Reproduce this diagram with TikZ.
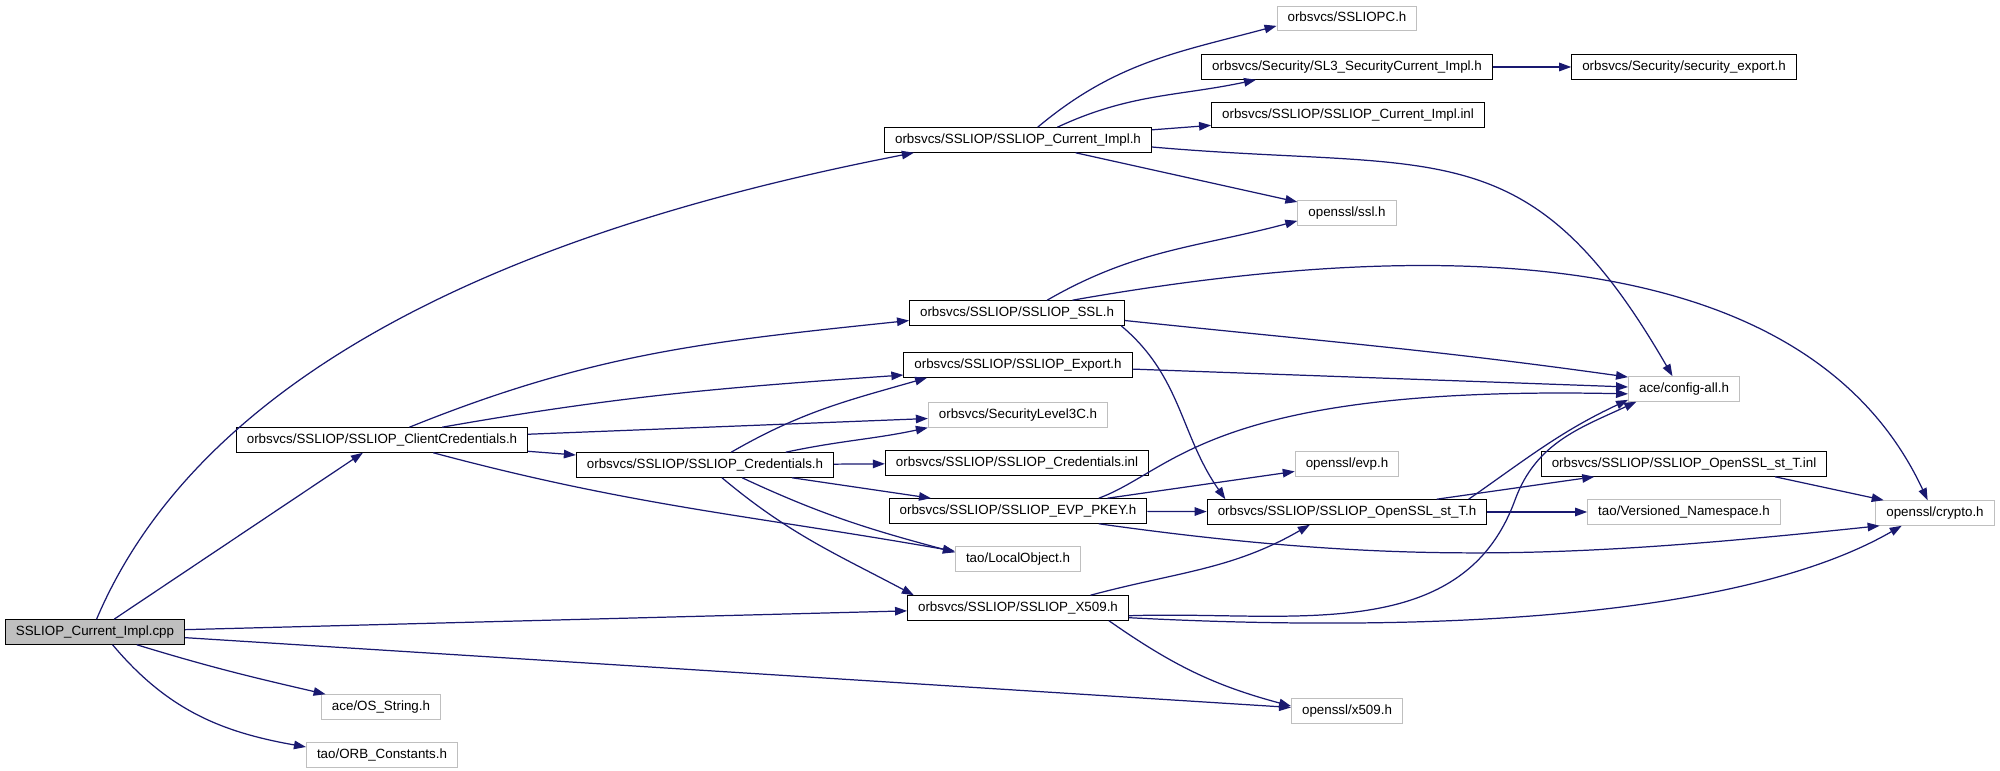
\documentclass[tikz,border=0pt]{standalone}
\usepackage{fontspec}
\setmainfont{Liberation Sans}
\usetikzlibrary{
    arrows.meta            % Modern arrow tips
}
\definecolor{edgeblue}{HTML}{191970}
\definecolor{extgray}{HTML}{BFBFBF}

\begin{document}
\begin{tikzpicture}[x=0.01cm,y=-0.01cm,
    box/.style={rectangle,inner xsep=0.105cm,inner ysep=0pt,minimum height=0.245cm,
        text height=2.75pt,text depth=0.8pt,
        font=\fontsize{3.8pt}{4.5pt}\selectfont,line width=0.3pt},
    docnode/.style={box,draw=black},
    extnode/.style={box,draw=extgray},
    rootnode/.style={box,draw=black,fill=extgray},
    incl/.style={draw=edgeblue,line width=0.35pt,-{Triangle[length=0.12cm,width=0.085cm]}}]
    \useasboundingbox (0,0) rectangle (2000,771);

    \node[rootnode] (main) at (95,632) {SSLIOP\_Current\_Impl.cpp};
    \node[docnode] (ccred) at (382,440) {orbsvcs/SSLIOP/SSLIOP\_ClientCredentials.h};
    \node[docnode] (cimplh) at (1018,140) {orbsvcs/SSLIOP/SSLIOP\_Current\_Impl.h};
    \node[extnode] (siopc) at (1347,18.5) {orbsvcs/SSLIOPC.h};
    \node[docnode] (sl3cur) at (1347,67) {orbsvcs/Security/SL3\_SecurityCurrent\_Impl.h};
    \node[docnode] (secexp) at (1684,67) {orbsvcs/Security/security\_export.h};
    \node[docnode] (cimplinl) at (1348,115) {orbsvcs/SSLIOP/SSLIOP\_Current\_Impl.inl};
    \node[extnode] (ssl) at (1347,213) {openssl/ssl.h};
    \node[docnode] (sslh) at (1017,313) {orbsvcs/SSLIOP/SSLIOP\_SSL.h};
    \node[docnode] (exph) at (1018,365) {orbsvcs/SSLIOP/SSLIOP\_Export.h};
    \node[extnode] (cfg) at (1684,389) {ace/config-all.h};
    \node[extnode] (sl3c) at (1018,415) {orbsvcs/SecurityLevel3C.h};
    \node[docnode] (credh) at (705,465) {orbsvcs/SSLIOP/SSLIOP\_Credentials.h};
    \node[docnode] (credinl) at (1017,463) {orbsvcs/SSLIOP/SSLIOP\_Credentials.inl};
    \node[extnode] (evp) at (1347,464) {openssl/evp.h};
    \node[docnode] (stinl) at (1684,464) {orbsvcs/SSLIOP/SSLIOP\_OpenSSL\_st\_T.inl};
    \node[docnode] (pkey) at (1018,511) {orbsvcs/SSLIOP/SSLIOP\_EVP\_PKEY.h};
    \node[docnode] (sth) at (1347,512) {orbsvcs/SSLIOP/SSLIOP\_OpenSSL\_st\_T.h};
    \node[extnode] (vns) at (1684,512) {tao/Versioned\_Namespace.h};
    \node[extnode] (crypto) at (1935,513) {openssl/crypto.h};
    \node[extnode] (lobj) at (1018,559) {tao/LocalObject.h};
    \node[docnode] (x509h) at (1018,608) {orbsvcs/SSLIOP/SSLIOP\_X509.h};
    \node[extnode] (osstr) at (381,707) {ace/OS\_String.h};
    \node[extnode] (x509) at (1347,711) {openssl/x509.h};
    \node[extnode] (orbc) at (382,755) {tao/ORB\_Constants.h};

    \draw[incl] (main.83) to[out=67,in=191,looseness=0.85] (cimplh.187);
    \draw[incl] (main) -- (ccred);
    \draw[incl] (main) -- (x509h);
    \draw[incl] (main) -- (x509);
    \draw[incl] (main.-17) to[out=-17,in=167] (osstr.167);
    \draw[incl] (main.-36) to[out=-50,in=170] (orbc.174);

    \draw[incl] (cimplh.33) to[out=40,in=195] (siopc.186);
    \draw[incl] (cimplh.18) to[out=25,in=192] (sl3cur.188);
    \draw[incl] (cimplh) -- (cimplinl);
    \draw[incl] (cimplh) -- (ssl);
    \draw[incl] (cimplh.-3) to[out=-5,in=120,looseness=1.3] (cfg.132);
    \draw[incl] (sl3cur) -- (secexp);

    \draw[incl] (ccred.25) to[out=22,in=186] (sslh.184);
    \draw[incl] (ccred.12) to[out=10,in=184] (exph.185);
    \draw[incl] (ccred) -- (sl3c);
    \draw[incl] (ccred) -- (credh);
    \draw[incl] (ccred.-14) to[out=-15,in=170] (lobj.173);

    \draw[incl] (credh.26) to[out=30,in=196] (exph.188);
    \draw[incl] (credh.9) to[out=12,in=192] (sl3c.188);
    \draw[incl] (credh) -- (credinl);
    \draw[incl] (credh) -- (pkey);
    \draw[incl] (credh.-19) to[out=-25,in=165] (lobj.174);
    \draw[incl] (credh.-37) to[out=-40,in=152] (x509h.173);

    \draw[incl] (sslh.23) to[out=30,in=195] (ssl.189);
    \draw[incl] (sslh.13) to[out=10,in=115,looseness=0.9] (crypto.120);
    \draw[incl] (sslh.-4) to[out=-6,in=172] (cfg.168);
    \draw[incl] (sslh.-7) to[out=-40,in=125] (sth.174);
    \draw[incl] (exph) -- (cfg);

    \draw[incl] (pkey.9) .. controls (1175,470) and (1210,385) .. (cfg.185);
    \draw[incl] (pkey) -- (evp);
    \draw[incl] (pkey) -- (sth);
    \draw[incl] (pkey.-9) to[out=-8,in=186] (crypto.193);

    \draw[incl] (sth.6) to[out=35,in=205] (cfg.191);
    \draw[incl] (sth) -- (stinl);
    \draw[incl] (sth) -- (vns);
    \draw[incl] (stinl.-8) -- (crypto.166);

    \draw[incl] (x509h.10) to[out=15,in=210] (sth.199);
    \draw[incl] (x509h.-4) to[out=2,in=-110] (1515,500) to[out=70,in=205] (cfg.195);
    \draw[incl] (x509h.-5) to[out=-3,in=210,looseness=0.7] (crypto.201);
    \draw[incl] (x509h.-8) to[out=-35,in=165] (x509.175);
\end{tikzpicture}
\end{document}
